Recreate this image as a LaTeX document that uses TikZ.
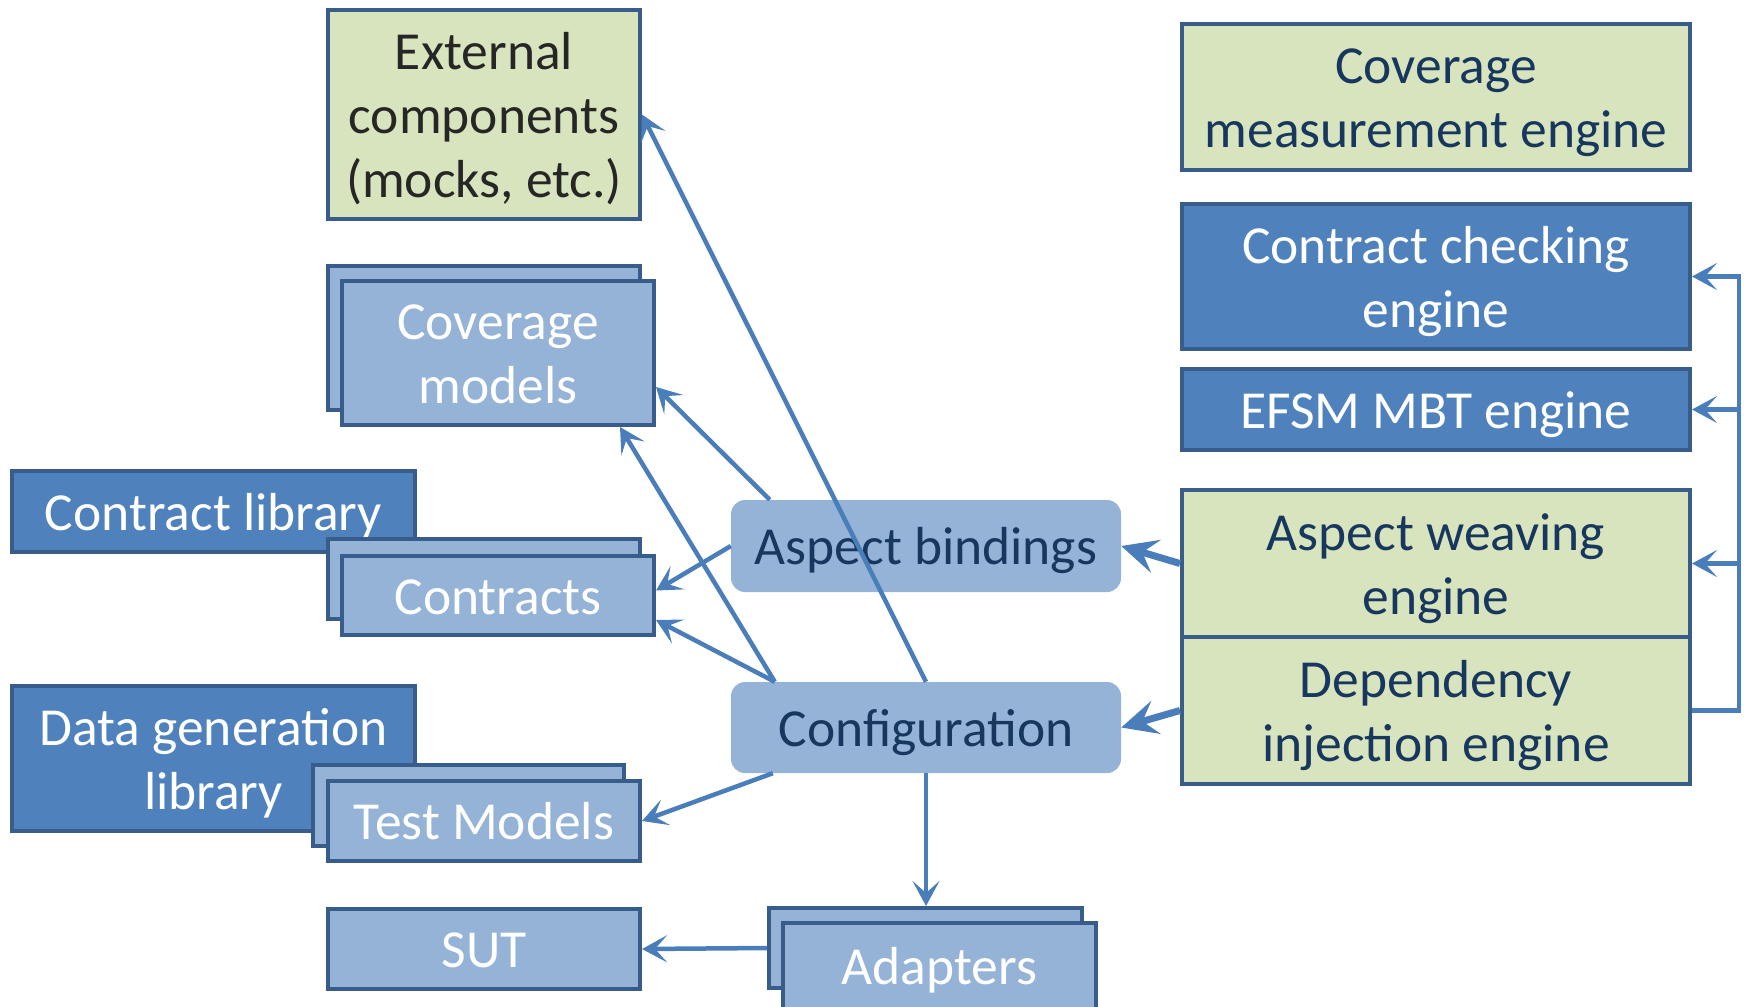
\documentclass[tikz,border=0pt]{standalone}
\usepackage{fontspec}
\setmainfont{Carlito}
\usetikzlibrary{arrows.meta,calc}

\definecolor{boxblue}{HTML}{4F81BD}
\definecolor{boxlight}{HTML}{95B3D7}
\definecolor{boxgreen}{HTML}{D7E4BD}
\definecolor{edge}{HTML}{385D8A}
\definecolor{wire}{HTML}{4A7EBB}
\definecolor{navy}{HTML}{17375E}
\definecolor{ink}{HTML}{262626}

% centred label, set a little below the geometric centre of its box
\newcommand\boxlabel[1]{\raisebox{-6pt}[\height][\depth]{\begin{tabular}{@{}c@{}}#1\end{tabular}}}

\begin{document}
\begin{tikzpicture}[x=1pt,y=-1pt,
  box/.style={rectangle, draw=edge, line width=4pt, inner sep=0pt,
    font=\fontsize{53.5}{64}\selectfont},
  darkbox/.style={box, fill=boxblue, text=white},
  lightbox/.style={box, fill=boxlight, text=white},
  greenbox/.style={box, fill=boxgreen, text=navy},
  roundbox/.style={rectangle, rounded corners=14pt, fill=boxlight, text=navy,
    inner sep=0pt, minimum width=390pt,
    font=\fontsize{53.5}{64}\selectfont},
  link/.style={draw=wire, line width=4.5pt,
    -{Stealth[length=25pt,width=27pt,inset=12pt]}},
  boldlink/.style={draw=wire, line width=7pt,
    -{Stealth[length=36pt,width=34pt,inset=14pt]}},
]
\useasboundingbox (0,0) rectangle (1744,1006);

% left column: artefacts
\node[greenbox, text=ink, minimum width=312pt, minimum height=209pt] (ext) at (484,114.5)
  {\boxlabel{External\\components\\(mocks, etc.)}};

\node[lightbox, minimum width=312pt, minimum height=144pt] (covB) at (484,338) {};
\node[lightbox, minimum width=312pt, minimum height=144pt] (cov) at (498,353)
  {\boxlabel{Coverage\\models}};

\node[darkbox, minimum width=403pt, minimum height=81pt] (clib) at (213.5,511.5)
  {\boxlabel{Contract library}};
\node[lightbox, minimum width=312pt, minimum height=80pt] (conB) at (484,579) {};
\node[lightbox, minimum width=312pt, minimum height=79pt] (con) at (498,595.5)
  {\boxlabel{Contracts}};

\node[darkbox, minimum width=403pt, minimum height=145pt] (dlib) at (213.5,758.5)
  {\boxlabel{Data generation\\library}};
\node[lightbox, minimum width=311pt, minimum height=81pt] (tmB) at (468.5,805.5) {};
\node[lightbox, minimum width=312pt, minimum height=80pt] (tm) at (484,821)
  {\boxlabel{Test Models}};

\node[lightbox, minimum width=312pt, minimum height=80pt] (sut) at (484,949)
  {\boxlabel{SUT}};

\node[lightbox, minimum width=313pt, minimum height=80pt] (adB) at (925.5,948) {};
\node[lightbox, minimum width=313pt, minimum height=86pt] (ad) at (939.5,966)
  {\boxlabel{Adapters}};

% middle: bindings and configuration
\node[roundbox, minimum height=92pt] (ab) at (926,546) {\boxlabel{Aspect bindings}};
\node[roundbox, minimum height=91pt] (cfg) at (926,727.5) {\boxlabel{Configuration}};

% right column: engines
\node[greenbox, minimum width=508pt, minimum height=146pt] (cme) at (1436,97)
  {\boxlabel{Coverage\\measurement engine}};
\node[darkbox, minimum width=508pt, minimum height=145pt] (cce) at (1436,276.5)
  {\boxlabel{Contract checking\\engine}};
\node[darkbox, minimum width=508pt, minimum height=81pt] (efsm) at (1436,409.5)
  {\boxlabel{EFSM MBT engine}};
\node[greenbox, minimum width=508pt, minimum height=147pt] (awe) at (1436,563.5)
  {\boxlabel{Aspect weaving\\engine}};
\node[greenbox, minimum width=508pt, minimum height=147pt] (die) at (1436,710.5)
  {\boxlabel{Dependency\\injection engine}};

% connectors
\draw[link] (cfg.north) -- (ext.east);
\draw[link] ($(ab.north west)+(39,0)$) -- ($(cov.south east)+(0,-40)$);
\draw[link] ($(cfg.north west)+(44,0)$) -- ($(cov.south east)+(-36,0)$);
\draw[link] (ab.west) -- ($(con.east)+(0,-5)$);
\draw[link] ($(cfg.north west)+(44,0)$) -- ($(con.south east)+(0,-17)$);
\draw[link] ($(cfg.south west)+(42,0)$) -- (tm.east);
\draw[link] (cfg.south) -- (cfg.south |- adB.north);
\draw[link] (adB.west) -- (sut.east);

\draw[boldlink] (awe.west) -- (ab.east);
\draw[boldlink] (die.west) -- (cfg.east);

% feedback bus on the right
\coordinate (bus) at (1739,0);
\draw[link] (die.east) -- (bus |- die.east) -- (bus |- cce.east) -- (cce.east);
\draw[link] (bus |- efsm.east) -- (efsm.east);
\draw[link] (bus |- awe.east) -- (awe.east);
\end{tikzpicture}
\end{document}
